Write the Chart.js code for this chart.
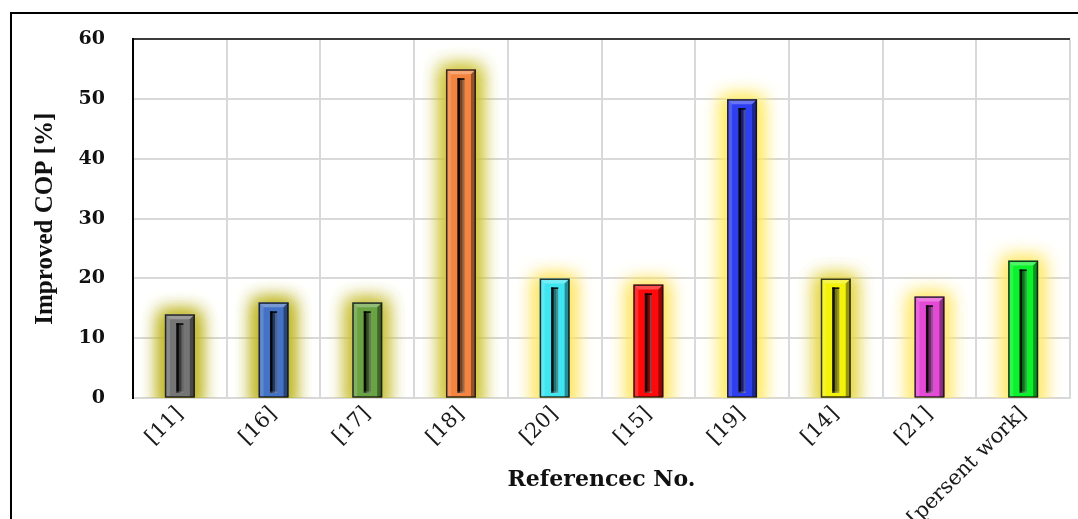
<!DOCTYPE html>
<html>
<head>
<meta charset="utf-8">
<script src="https://cdn.jsdelivr.net/npm/chart.js@4/dist/chart.umd.min.js"></script>
<style>
  html, body { margin: 0; padding: 0; background: #ffffff; }
  #wrap { width: 1078px; height: 519px; }
  canvas { display: block; }
</style>
</head>
<body>
<div id="wrap"><canvas id="cop" width="1078" height="519"></canvas></div>
<script>
// Reference numbers on the x axis
const references = ['[11]', '[16]', '[17]', '[18]', '[20]', '[15]', '[19]', '[14]', '[21]', '[persent work]'];
// Improvement in COP reported by each reference, %
const improvedCOP = [14, 16, 16, 55, 20, 19, 50, 20, 17, 23];
// Value axis range and step
const yMin = 0;
const yMax = 60;
const yStep = 10;

// Bar face colours and the glow around each bar
const faceColors = ['#757575', '#4472c4', '#6aa343', '#f4843f', '#3fe6f2', '#ff0a0a', '#2e3ff0', '#f2f20a', '#e44ad6', '#0af22c'];
const glowColors = [
  'rgba(190,180,30,0.95)', 'rgba(190,180,30,0.95)', 'rgba(200,190,50,0.9)', 'rgba(205,195,50,0.9)',
  'rgba(255,228,90,0.85)', 'rgba(255,228,90,0.85)', 'rgba(255,234,90,0.85)', 'rgba(228,212,60,0.85)',
  'rgba(255,232,100,0.85)', 'rgba(255,232,100,0.85)'
];

const serifBold = "'DejaVu Serif', serif";

// Outer frame and white page
const framePlugin = {
  id: 'frame',
  beforeDraw(chart) {
    const ctx = chart.ctx;
    ctx.save();
    ctx.fillStyle = '#ffffff';
    ctx.fillRect(0, 0, chart.width, chart.height);
    ctx.strokeStyle = '#000000';
    ctx.lineWidth = 2;
    ctx.beginPath();
    ctx.moveTo(11, chart.height + 2);
    ctx.lineTo(11, 13);
    ctx.lineTo(chart.width + 2, 13);
    ctx.stroke();
    ctx.restore();
  }
};

// Soft glow behind every bar and bevelled shading on top of it
const bevelPlugin = {
  id: 'bevel',
  beforeDatasetsDraw(chart) {
    const ctx = chart.ctx;
    const area = chart.chartArea;
    const meta = chart.getDatasetMeta(0);
    const shift = 5000;
    ctx.save();
    ctx.beginPath();
    ctx.rect(area.left, area.top - 20, area.right - area.left, area.bottom - area.top + 20);
    ctx.clip();
    meta.data.forEach((bar, i) => {
      const p = bar.getProps(['x', 'y', 'base', 'width'], true);
      const L = p.x - p.width / 2;
      // only the blurred shadow lands on the canvas, the shape itself is off to the side
      ctx.shadowColor = glowColors[i];
      ctx.shadowBlur = 18;
      ctx.shadowOffsetX = shift;
      ctx.fillStyle = '#000';
      for (let k = 0; k < 2; k++) {
        ctx.fillRect(L - 5 - shift, p.y - 3, p.width + 10, p.base - p.y + 14);
      }
    });
    ctx.restore();
  },
  afterDatasetsDraw(chart) {
    const ctx = chart.ctx;
    const meta = chart.getDatasetMeta(0);
    ctx.save();
    meta.data.forEach((bar) => {
      const p = bar.getProps(['x', 'y', 'base', 'width'], true);
      const L = p.x - p.width / 2, R = p.x + p.width / 2, T = p.y, B = p.base;
      const bev = 5;
      const poly = (pts, fill) => {
        ctx.beginPath();
        ctx.moveTo(pts[0][0], pts[0][1]);
        for (let k = 1; k < pts.length; k++) ctx.lineTo(pts[k][0], pts[k][1]);
        ctx.closePath();
        ctx.fillStyle = fill;
        ctx.fill();
      };
      // left and top bevels catch the light, right bevel in shade
      poly([[L, T], [L + bev, T + bev], [L + bev, B], [L, B]], 'rgba(255,255,255,0.16)');
      poly([[L, T], [R, T], [R - bev, T + bev], [L + bev, T + bev]], 'rgba(255,255,255,0.28)');
      poly([[R, T], [R, B], [R - bev, B], [R - bev, T + bev]], 'rgba(0,0,0,0.38)');
      // recessed slot down the middle
      const sw = 7, sx = p.x - sw / 2, sT = T + 9, sB = B - 4;
      if (sB > sT) {
        ctx.fillStyle = 'rgba(0,0,0,0.5)';
        ctx.fillRect(sx, sT, sw, sB - sT);
        ctx.fillStyle = 'rgba(0,0,0,0.85)';
        ctx.fillRect(sx, sT, 2.5, sB - sT);
        ctx.fillRect(sx, sT, sw, 1.5);
        ctx.fillStyle = 'rgba(255,255,255,0.22)';
        ctx.fillRect(sx + sw - 2, sT + 1.5, 2, sB - sT - 1.5);
        ctx.fillRect(sx, sB - 1.5, sw, 1.5);
      }
      // dark rim
      ctx.strokeStyle = 'rgba(20,20,20,0.85)';
      ctx.lineWidth = 1.5;
      ctx.strokeRect(L + 0.75, T + 0.75, p.width - 1.5, B - T - 0.75);
    });
    ctx.restore();
  }
};

new Chart(document.getElementById('cop'), {
  type: 'bar',
  data: {
    labels: references,
    datasets: [{
      label: 'Improved COP [%]',
      data: improvedCOP,
      backgroundColor: faceColors,
      borderWidth: 0,
      categoryPercentage: 1.0,
      barPercentage: 0.32
    }]
  },
  options: {
    responsive: false,
    devicePixelRatio: 1,
    animation: false,
    layout: { padding: { top: 38, right: 8, left: 0, bottom: 0 } },
    plugins: {
      legend: { display: false },
      tooltip: { enabled: false }
    },
    scales: {
      x: {
        grid: {
          drawTicks: false,
          lineWidth: 2,
          color: (c) => (c.index === references.length ? '#1a1a1a' : '#d9d9d9')
        },
        border: { display: true, color: '#d9d9d9', width: 2 },
        ticks: {
          autoSkip: false,
          minRotation: 45,
          maxRotation: 45,
          padding: 4,
          color: '#1a1a1a',
          font: { family: "'DejaVu Serif', serif", size: 21, weight: 'normal' }
        },
        title: {
          display: true,
          text: 'Referencec No.',
          color: '#111111',
          font: { family: serifBold, size: 22, weight: 'bold' },
          padding: { top: 0, bottom: 26 }
        },
        afterFit(scale) { scale.height = 121; }
      },
      y: {
        min: yMin,
        max: yMax,
        grid: {
          drawTicks: false,
          lineWidth: 2,
          color: (c) => (c.tick && c.tick.value === yMax ? '#3c3c3c' : '#d9d9d9')
        },
        border: { display: true, color: '#000000', width: 2 },
        ticks: {
          stepSize: yStep,
          padding: 28,
          color: '#111111',
          font: { family: serifBold, size: 19, weight: 'bold' }
        },
        title: {
          display: true,
          text: 'Improved COP [%]',
          color: '#111111',
          font: { family: "'Liberation Serif', serif", size: 25, weight: 'bold' },
          padding: { top: 31, bottom: 0 }
        },
        afterFit(scale) { scale.width = 133; }
      }
    }
  },
  plugins: [framePlugin, bevelPlugin]
});
</script>
</body>
</html>
